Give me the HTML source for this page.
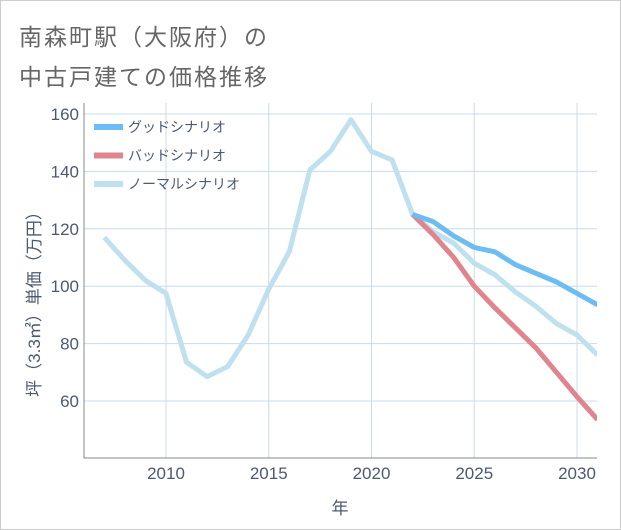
<!DOCTYPE html>
<html><head><meta charset="utf-8"><style>
body{margin:0;background:#fff;font-family:"Liberation Sans","Noto Sans CJK JP",sans-serif;}
#wrap{position:relative;width:619px;height:528px;border:1px solid #ccc;background:#fff;}
.t{position:absolute;left:18px;font-size:23px;color:#666;letter-spacing:2px;}
</style></head><body>
<div id="wrap">
<div class="t" style="top:17px">南森町駅（大阪府）の</div>
<div class="t" style="top:57px">中古戸建ての価格推移</div>
<svg id="c" width="621" height="530" style="position:absolute;left:-1px;top:-1px"></svg>
</div>
<script>
const years=[2007,2008,2009,2010,2011,2012,2013,2014,2015,2016,2017,2018,2019,2020,2021,2022,2023,2024,2025,2026,2027,2028,2029,2030,2031];
const normal=[117,109,102,97.5,73.5,68.5,72,83,99,112,140.5,147,158,147,144,125,119,115,108,104,98,93,87,83,76];
const fYears=[2022,2023,2024,2025,2026,2027,2028,2029,2030,2031];
const good=[125,122.5,117.5,113.5,112,107.5,104.5,101.5,97.5,93.5];
const bad=[125,118,110,100,92.5,85.5,78.5,70,61.5,53.5];
const xTicks=[2010,2015,2020,2025,2030];
const yTicks=[60,80,100,120,140,160];
const legendLabels=['グッドシナリオ','バッドシナリオ','ノーマルシナリオ'];
const X0=84,X1=597,Y0=103,Y1=458;
const xs=y=>166+(y-2010)*20.55;
const ys=v=>114+(160-v)*2.87;
const svg=document.getElementById('c');const NS='http://www.w3.org/2000/svg';
function mk(t,a,p){const e=document.createElementNS(NS,t);for(const k in a)e.setAttribute(k,a[k]);(p||svg).appendChild(e);return e;}
const clip=mk('clipPath',{id:'cp'});mk('rect',{x:X0,y:Y0,width:X1-X0,height:Y1-Y0},clip);
const lb=mk('rect',{x:92,y:116,width:165,height:82,fill:'#fff','fill-opacity':0.6});


xTicks.forEach(t=>{const l=mk('line',{x1:xs(t),x2:xs(t),y1:Y0,y2:Y1,stroke:'#c9dce8','stroke-width':1});


const tx=mk('text',{x:xs(t),y:479,'text-anchor':'middle','font-size':17,fill:'#4a5a70'});tx.textContent=t;

});
yTicks.forEach(t=>{const l=mk('line',{x1:X0,x2:X1,y1:ys(t),y2:ys(t),stroke:'#c9dce8','stroke-width':1});


const tx=mk('text',{x:79,y:ys(t)+6,'text-anchor':'end','font-size':17,fill:'#4a5a70'});tx.textContent=t;

});
const fr=mk('path',{d:`M${X0},${Y0}V${Y1}H${X1}`,stroke:'#888',fill:'none','stroke-width':1});


function line(xa,va,col,name){const d=xa.map((y,i)=>(i?'L':'M')+xs(y)+','+ys(va[i])).join('');
const p=mk('path',{d:d,stroke:col,fill:'none','stroke-width':5,'stroke-linejoin':'round','clip-path':'url(#cp)'});

}
line(years,normal,'#bfe0ee','normal-scenario-line');
line(fYears,bad,'#e0848d','bad-scenario-line');
line(fYears,good,'#6bbdf2','good-scenario-line');
const cols=['#6bbdf2','#e0848d','#bfe0ee'];
legendLabels.forEach((s,i)=>{const y=127+i*28.5;
const r=mk('rect',{x:94,y:y-3,width:29,height:6,fill:cols[i]});


const t=mk('text',{x:128,y:y+5,'font-size':14,fill:'#4a5a70'});t.textContent=s;

});
const xt=mk('text',{x:340,y:514,'text-anchor':'middle','font-size':17,fill:'#4a5a70'});xt.textContent='年';


const yt=mk('text',{x:0,y:0,'text-anchor':'middle','font-size':17,fill:'#4a5a70',transform:'translate(40,300) rotate(-90)'});yt.textContent='坪（3.3㎡）単価（万円）';


</script>
</body></html>
